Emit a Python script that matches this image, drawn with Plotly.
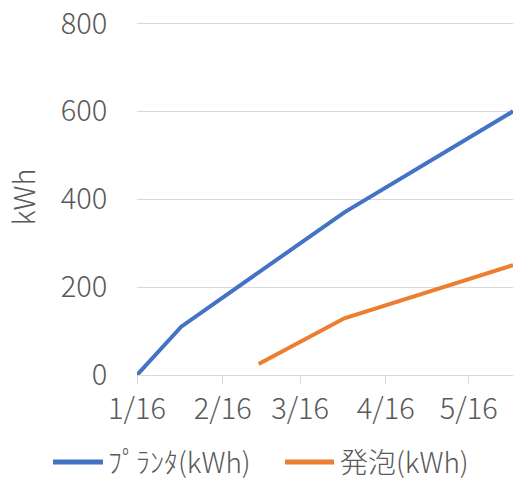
import plotly.graph_objects as go

# Cumulative energy, kWh
planter_dates = ["2023-01-16", "2023-02-01", "2023-04-01", "2023-06-01"]
planter_kwh = [0, 110, 370, 600]

foam_dates = ["2023-03-01", "2023-04-01", "2023-06-01"]
foam_kwh = [25, 129, 250]

series_names = ["ﾌﾟﾗﾝﾀ(kWh)", "発泡(kWh)"]
series_colors = ["#4472C4", "#ED7D31"]
y_ticks = [0, 200, 400, 600, 800]

FONT = "Noto Sans CJK JP"
GRAY = "#595959"
GRID = "#D9D9D9"
FS = 29

W, H = 513, 481
ML, MR, MT, MB = 137, 0, 19, 106
PW, PH = W - ML - MR, H - MT - MB


def px_to_paper(x, y):
    """Convert page pixel position to paper coordinates."""
    return (x - ML) / PW, (H - MB - y) / PH


fig = go.Figure()
fig.add_trace(go.Scatter(
    x=planter_dates, y=planter_kwh, mode="lines", name=series_names[0],
    line=dict(color=series_colors[0], width=4),
))
fig.add_trace(go.Scatter(
    x=foam_dates, y=foam_kwh, mode="lines", name=series_names[1],
    line=dict(color=series_colors[1], width=4),
))

# Legend row below the axis: a line swatch plus label per series
legend_items = [(53, 103, 106), (285, 334, 338)]
for (x0, x1, xt), name, color in zip(legend_items, series_names, series_colors):
    p0 = px_to_paper(x0, 462)
    p1 = px_to_paper(x1, 462)
    fig.add_shape(type="line", xref="paper", yref="paper",
                  x0=p0[0], y0=p0[1], x1=p1[0], y1=p1[1],
                  line=dict(color=color, width=5))
    pt = px_to_paper(xt, 461)
    fig.add_annotation(text=name, xref="paper", yref="paper",
                       x=pt[0], y=pt[1], xanchor="left", yanchor="middle",
                       showarrow=False,
                       font=dict(family=FONT, size=FS - 1, color=GRAY, weight=300))

fig.update_layout(
    width=W, height=H,
    margin=dict(l=ML, r=MR, t=MT, b=MB, autoexpand=False),
    paper_bgcolor="white", plot_bgcolor="white",
    font=dict(family=FONT, color=GRAY, size=FS, weight=300),
    showlegend=False,
    xaxis=dict(
        type="date",
        range=["2023-01-16", "2023-06-01"],
        tick0="2023-01-16", dtick="M1", tickformat="%-m/%-d",
        showgrid=False, showline=True, linecolor=GRID, linewidth=1,
        ticks="outside", ticklen=8, tickcolor=GRID, tickwidth=1,
        tickfont=dict(size=FS, color=GRAY, weight=300),
        zeroline=False, ticklabeloverflow="allow",
    ),
    yaxis=dict(
        range=[0, 810], tickvals=y_ticks,
        showgrid=True, gridcolor=GRID, gridwidth=1,
        zeroline=False, showline=False,
        ticks="outside", ticklen=23, tickcolor="rgba(0,0,0,0)",
        tickfont=dict(size=FS, color=GRAY, weight=300),
        ticklabeloverflow="allow",
        title=dict(text="kWh", font=dict(size=FS, color=GRAY, weight=300), standoff=16),
    ),
)

fig.write_html("out.html")
